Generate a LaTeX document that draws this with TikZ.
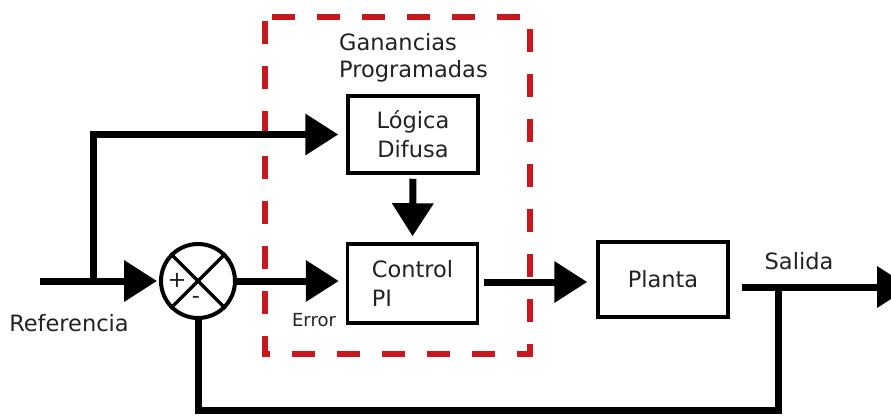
\documentclass[tikz,border=0pt]{standalone}
\usepackage{fontspec}
\setmainfont{DejaVu Sans}
\usetikzlibrary{arrows.meta}
\definecolor{dashred}{HTML}{C8181E}
\definecolor{txt}{HTML}{222222}
\begin{document}
\begin{tikzpicture}[x=1pt,y=-1pt,
  blockbox/.style={draw=black,line width=3.5pt,rectangle,minimum width=130pt,minimum height=77pt,inner sep=0pt,align=left,text=txt,font=\fontsize{22.5}{29}\selectfont},
  conn/.style={line width=7pt,-{Triangle[length=33pt,width=40pt]}},
  plainconn/.style={line width=7pt},
  lbl/.style={text=txt,inner sep=0pt,font=\fontsize{22.5}{27}\selectfont}]
\useasboundingbox (0,0) rectangle (891,416);
% dashed group frame
\draw[dashred,line width=6pt,dash pattern=on 23pt off 22pt] (272,17) -- (530,17) -- (530,354) -- (265,354) -- (265,17);
\node[lbl,align=left,anchor=west] (gp) at (339,58) {Ganancias\\Programadas};
% blocks
\node[blockbox,align=center] (lg) at (413,134.5) {Lógica\\Difusa};
\node[blockbox,minimum height=79pt] (pi) at (412.5,283.5) {Control\\PI};
\node[blockbox,minimum height=75pt] (pl) at (663,279.5) {Planta};
% summing junction
\node[draw,circle,line width=4pt,minimum size=74pt,inner sep=0pt] (sum) at (198,281) {};
\draw[line width=3.5pt] (sum.north east) -- (sum.south west) (sum.north west) -- (sum.south east);
\node[lbl] (plus) at (177,280) {+};
\node[lbl] (minus) at (196,300) {-};
% coordinates
\coordinate (in) at (40,281);
\coordinate (br) at (93,281);
\coordinate (out) at (910,287);
\coordinate (tap) at (778,287);
\coordinate (fb) at (778,410);
% connectors
\draw[conn,shorten >=2pt] (in) -- (sum.west);
\draw[conn,shorten >=8pt] (br) |- (lg.west);
\draw[conn,shorten >=7pt] (sum.east) -- (sum.east -| pi.west);
\draw[conn,shorten <=4pt,shorten >=6pt] (lg.south) -- (pi.north);
\draw[conn,shorten <=5pt,shorten >=9pt] (pi.east |- 0,282) -- (pl.west |- 0,282);
\draw[conn,shorten <=0pt] (pl.east |- out) ++(12,0) -- (out);
\draw[plainconn] (tap) -- (fb) -| (sum.south);
% labels
\node[lbl,font=\fontsize{18}{22}\selectfont] (err) at (314,320) {Error};
\node[lbl] (ref) at (69,323) {Referencia};
\node[lbl] (sal) at (799,261) {Salida};
\end{tikzpicture}
\end{document}
